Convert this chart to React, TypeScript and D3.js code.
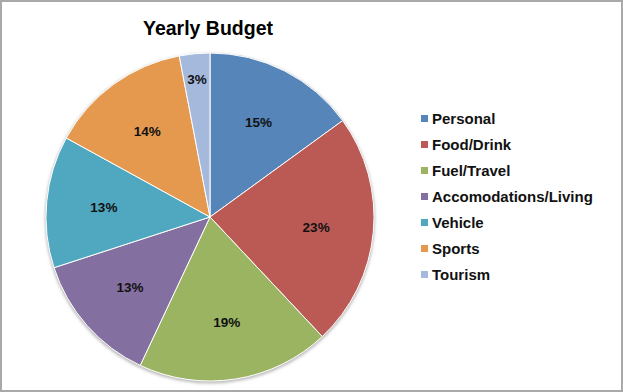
import React, { useEffect, useRef } from 'react';
import * as d3 from 'd3';

const WIDTH = 623;
const HEIGHT = 392;

const CATEGORIES = ['Personal', 'Food/Drink', 'Fuel/Travel', 'Accomodations/Living', 'Vehicle', 'Sports', 'Tourism'];
const PERCENTS = [15, 23, 19, 13, 13, 14, 3];
const COLORS = ['#5585b9', '#bb5a54', '#9bb462', '#8470a0', '#4fa8c0', '#e4994f', '#a5b9dc'];

const CENTER = { x: 210, y: 217 };
const RADIUS = 164;

export default function App() {
  const ref = useRef<SVGSVGElement>(null);

  useEffect(() => {
    const svg = d3.select(ref.current);
    svg.selectAll('*').remove();

    const data = CATEGORIES.map((c, i) => ({ name: c, value: PERCENTS[i], color: COLORS[i] }));

    // outer frame
    svg.append('rect')
      .attr('x', 1).attr('y', 1)
      .attr('width', WIDTH - 2).attr('height', HEIGHT - 2)
      .attr('fill', '#fff')
      .attr('stroke', '#a9a9a9')
      .attr('stroke-width', 2);

    svg.append('text')
      .attr('x', 208).attr('y', 34.5)
      .attr('text-anchor', 'middle')
      .attr('font-family', 'Liberation Sans, Arial, sans-serif')
      .attr('font-weight', 'bold')
      .attr('font-size', 19.5)
      .text('Yearly Budget');

    const defs = svg.append('defs');
    const blur = defs.append('filter').attr('id', 'shadow')
      .attr('x', '-10%').attr('y', '-10%').attr('width', '120%').attr('height', '120%');
    blur.append('feGaussianBlur').attr('stdDeviation', 1.5);

    const pie = d3.pie<any>().value(d => d.value).sort(null);
    const arcs = pie(data);
    const arc = d3.arc<any>().innerRadius(0).outerRadius(RADIUS);

    const g = svg.append('g').attr('transform', `translate(${CENTER.x},${CENTER.y})`);

    g.append('circle')
      .attr('cx', 0).attr('cy', 1.5)
      .attr('r', RADIUS + 1)
      .attr('fill', '#bbb')
      .attr('filter', 'url(#shadow)');

    g.selectAll('path.slice')
      .data(arcs)
      .enter()
      .append('path')
      .attr('class', 'slice')
      .attr('d', arc)
      .attr('fill', d => d.data.color)
      .attr('stroke', '#fff')
      .attr('stroke-width', 1);

    const labelArc = (d: any) => {
      const small = d.endAngle - d.startAngle < 0.3;
      const r = small ? RADIUS * 0.845 : RADIUS * 0.65;
      return d3.arc<any>().innerRadius(r).outerRadius(r).centroid(d);
    };

    g.selectAll('text.pct')
      .data(arcs)
      .enter()
      .append('text')
      .attr('class', 'pct')
      .attr('x', d => labelArc(d)[0])
      .attr('y', d => labelArc(d)[1])
      .attr('dy', '0.36em')
      .attr('text-anchor', 'middle')
      .attr('font-family', 'Liberation Sans, Arial, sans-serif')
      .attr('font-weight', 'bold')
      .attr('font-size', 13.5)
      .attr('fill', '#111')
      .text(d => `${d.data.value}%`);

    const legendY = d3.scalePoint<string>()
      .domain(CATEGORIES)
      .range([119, 275]);

    const legend = svg.append('g');
    const items = legend.selectAll('g')
      .data(data)
      .enter()
      .append('g')
      .attr('transform', d => `translate(421,${legendY(d.name)})`);

    items.append('rect')
      .attr('x', 0).attr('y', -4)
      .attr('width', 7).attr('height', 7)
      .attr('fill', d => d.color);

    items.append('text')
      .attr('x', 11).attr('y', 0)
      .attr('dy', '0.36em')
      .attr('font-family', 'Liberation Sans, Arial, sans-serif')
      .attr('font-weight', 'bold')
      .attr('font-size', 15)
      .attr('fill', '#111')
      .text(d => d.name);
  }, []);

  return (
    <svg
      ref={ref}
      width={WIDTH}
      height={HEIGHT}
      style={{ position: 'absolute', left: 0, top: 0 }}
    />
  );
}
